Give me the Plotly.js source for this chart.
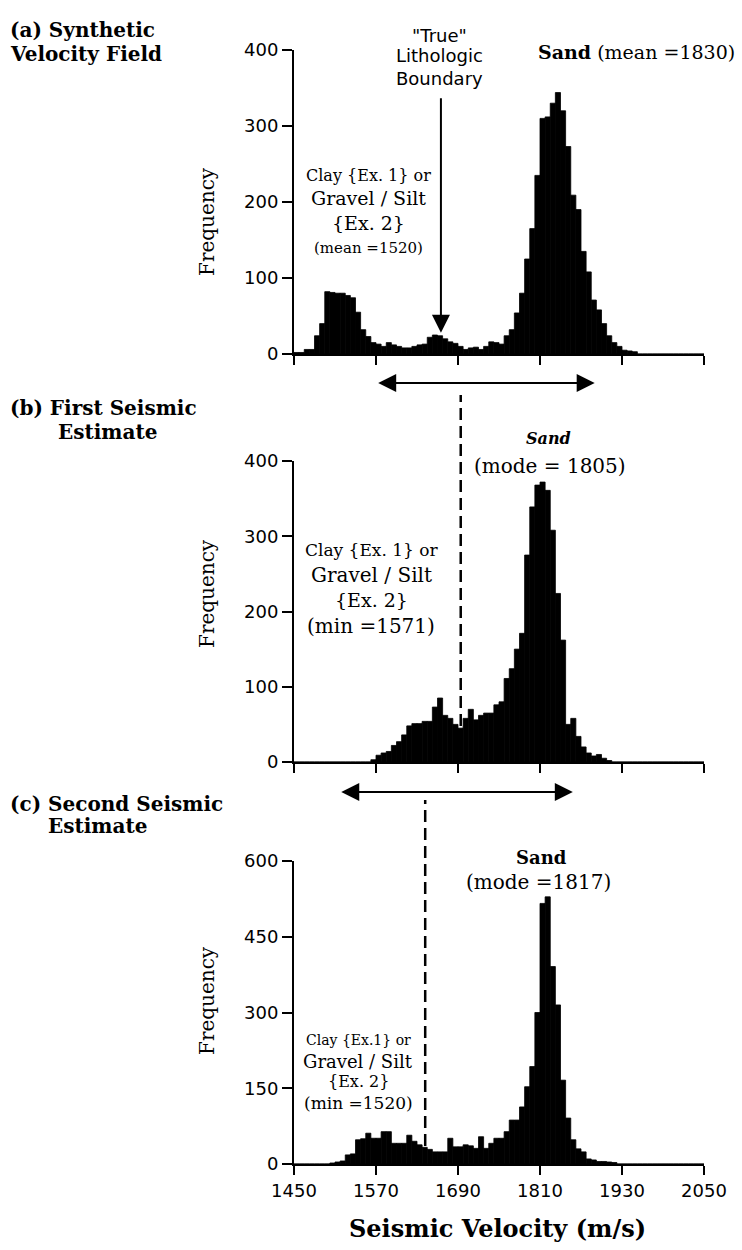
<!DOCTYPE html>
<html>
<head>
<meta charset="utf-8">
<script src="https://cdn.plot.ly/plotly-3.0.1.min.js"></script>
<style>
  html, body { margin: 0; padding: 0; background: #fff; }
  #chart { width: 742px; height: 1250px; }
</style>
</head>
<body>
<div id="chart"></div>
<script>
// Velocity bins (m/s): centres of 7.5 m/s wide bins from 1450 to 2050
const binCenters = [
  1453.75, 1461.25, 1468.75, 1476.25, 1483.75, 1491.25, 1498.75, 1506.25, 1513.75, 1521.25,
  1528.75, 1536.25, 1543.75, 1551.25, 1558.75, 1566.25, 1573.75, 1581.25, 1588.75, 1596.25,
  1603.75, 1611.25, 1618.75, 1626.25, 1633.75, 1641.25, 1648.75, 1656.25, 1663.75, 1671.25,
  1678.75, 1686.25, 1693.75, 1701.25, 1708.75, 1716.25, 1723.75, 1731.25, 1738.75, 1746.25,
  1753.75, 1761.25, 1768.75, 1776.25, 1783.75, 1791.25, 1798.75, 1806.25, 1813.75, 1821.25,
  1828.75, 1836.25, 1843.75, 1851.25, 1858.75, 1866.25, 1873.75, 1881.25, 1888.75, 1896.25,
  1903.75, 1911.25, 1918.75, 1926.25, 1933.75, 1941.25, 1948.75, 1956.25, 1963.75, 1971.25,
  1978.75, 1986.25, 1993.75, 2001.25, 2008.75, 2016.25, 2023.75, 2031.25, 2038.75, 2046.25
];
const binWidth = 7.5;

// (a) synthetic velocity field
const countsSynthetic = [
  2, 2, 6, 6, 24, 40, 82, 81, 80, 80,
  77, 74, 55, 32, 23, 15, 13, 10, 15, 12,
  10, 8, 8, 10, 12, 13, 22, 25, 24, 20,
  16, 14, 10, 6, 8, 9, 6, 10, 16, 15,
  13, 24, 32, 54, 80, 125, 165, 235, 310, 312,
  330, 344, 320, 273, 209, 190, 135, 108, 71, 58,
  40, 24, 15, 10, 5, 4, 3, 0, 0, 0,
  0, 0, 0, 0, 0, 0, 0, 0, 0, 0
];
// (b) first seismic estimate
const countsFirst = [
  0, 0, 0, 0, 0, 0, 0, 0, 0, 0,
  0, 0, 0, 0, 0, 3, 9, 12, 14, 22,
  27, 36, 48, 51, 51, 54, 54, 73, 85, 62,
  58, 50, 45, 58, 70, 56, 62, 65, 65, 76,
  80, 111, 124, 150, 171, 275, 339, 368, 372, 361,
  308, 224, 162, 50, 58, 34, 20, 12, 8, 10,
  5, 2, 0, 0, 0, 0, 0, 0, 0, 0,
  0, 0, 0, 0, 0, 0, 0, 0, 0, 0
];
// (c) second seismic estimate
const countsSecond = [
  0, 0, 0, 0, 0, 0, 0, 2, 4, 6,
  18, 20, 48, 50, 61, 51, 51, 64, 64, 41,
  41, 41, 57, 45, 38, 33, 29, 24, 24, 24,
  51, 34, 34, 38, 36, 31, 54, 31, 41, 51,
  51, 64, 87, 87, 113, 153, 193, 300, 516, 529,
  391, 315, 166, 91, 48, 30, 24, 10, 8, 5,
  5, 4, 3, 0, 0, 0, 0, 0, 0, 0,
  0, 0, 0, 0, 0, 0, 0, 0, 0, 0
];

const velocityTicks = [1450, 1570, 1690, 1810, 1930, 2050];
const freqTicksAB = [0, 100, 200, 300, 400];
const freqTicksC = [0, 150, 300, 450, 600];

// Key velocities marked on the panels
const trueBoundary = 1665;
const firstSplit = 1694, firstMin = 1571, firstMax = 1890;
const secondSplit = 1642, secondMin = 1517, secondMax = 1858;

// ---- page geometry (pixels) ----
const W = 742, H = 1250;
const M = { l: 294, r: 32, t: 50, b: 86 };
const plotW = W - M.l - M.r, plotH = H - M.t - M.b;
const px = x => (x - M.l) / plotW;            // pixel x -> paper x
const py = y => (H - M.b - y) / plotH;        // pixel y -> paper y

const serif = 'DejaVu Serif, serif';
const sans = 'DejaVu Sans, sans-serif';

function label(text, x, y, size, extra) {
  return Object.assign({
    xref: 'paper', yref: 'paper', x: px(x), y: py(y),
    xanchor: 'center', yanchor: 'middle', showarrow: false,
    text: text, font: { family: serif, size: size, color: '#000' }
  }, extra || {});
}

function bars(counts, xa, ya) {
  return {
    type: 'bar', x: binCenters, y: counts, width: binWidth,
    xaxis: xa, yaxis: ya,
    marker: { color: '#000', line: { width: 0.8, color: '#000' } },
    hoverinfo: 'x+y'
  };
}

const data = [
  bars(countsSynthetic, 'x', 'y'),
  bars(countsFirst, 'x2', 'y2'),
  bars(countsSecond, 'x3', 'y3')
];

const xDomain = [0, 410 / plotW];
function xAxis(anchor, showLabels) {
  return {
    domain: xDomain, anchor: anchor, range: [1450, 2050],
    tickmode: 'array', tickvals: velocityTicks,
    showticklabels: showLabels,
    ticks: 'outside', ticklen: 9, tickwidth: 2, tickcolor: '#000',
    showline: true, linewidth: 2, linecolor: '#000',
    showgrid: false, zeroline: false, fixedrange: true,
    tickfont: { family: sans, size: 18, color: '#000' }
  };
}
function yAxis(anchor, domain, max, ticks) {
  return {
    domain: domain, anchor: anchor, range: [0, max],
    tickmode: 'array', tickvals: ticks,
    ticks: 'outside', ticklen: 10, tickwidth: 2, tickcolor: '#000',
    showline: true, linewidth: 2, linecolor: '#000',
    showgrid: false, zeroline: false, fixedrange: true,
    tickfont: { family: sans, size: 18, color: '#000' }
  };
}

const annotations = [
  // panel headings
  label('<b>(a) Synthetic</b>', 8, 30, 20, { xanchor: 'left' }),
  label('<b>Velocity Field</b>', 8, 54, 20, { xanchor: 'left' }),
  label('<b>(b) First Seismic</b>', 8, 408, 20, { xanchor: 'left' }),
  label('<b>Estimate</b>', 107, 432, 20),
  label('<b>(c) Second Seismic</b>', 8, 804, 20, { xanchor: 'left' }),
  label('<b>Estimate</b>', 97, 826, 20),

  // y-axis titles
  label('Frequency', 207, 222, 20, { textangle: -90 }),
  label('Frequency', 207, 594, 20, { textangle: -90 }),
  label('Frequency', 207, 1001, 20, { textangle: -90 }),

  // x-axis title
  label('<b>Seismic Velocity (m/s)</b>', 497, 1228, 24),

  // (a) labels
  label('"True"', 439, 35, 18, { font: { family: sans, size: 18, color: '#000' } }),
  label('Lithologic', 439, 56, 18, { font: { family: sans, size: 18, color: '#000' } }),
  label('Boundary', 439, 78, 18, { font: { family: sans, size: 18, color: '#000' } }),
  label('<b>Sand</b> (mean =1830)', 737, 52, 19, { xanchor: 'right' }),
  label('Clay {Ex. 1} or', 368, 175, 16),
  label('Gravel / Silt', 368, 198, 19),
  label('{Ex. 2}', 368, 223, 19),
  label('(mean =1520)', 368, 248, 15),

  // (b) labels
  label('<b><i>Sand</i></b>', 548, 439, 16),
  label('(mode = 1805)', 550, 466, 20),
  label('Clay {Ex. 1} or', 371, 550, 17),
  label('Gravel / Silt', 371, 575, 20),
  label('{Ex. 2}', 371, 600, 19),
  label('(min =1571)', 371, 626, 20),

  // (c) labels
  label('<b>Sand</b>', 541, 857, 18),
  label('(mode =1817)', 538, 882, 20),
  label('Clay {Ex.1} or', 358, 1040, 14),
  label('Gravel / Silt', 358, 1061, 18),
  label('{Ex. 2}', 358, 1081, 16),
  label('(min =1520)', 358, 1103, 17),

  // arrow to the true lithologic boundary
  {
    xref: 'x', yref: 'y', x: trueBoundary, y: 28,
    axref: 'pixel', ayref: 'pixel', ax: 0, ay: -236,
    text: '', showarrow: true, arrowhead: 2, arrowsize: 1.8, arrowwidth: 2,
    arrowcolor: '#000', standoff: 0
  },
  // velocity spans of the seismic estimates
  {
    xref: 'x2', yref: 'paper', x: firstMax, y: py(383),
    axref: 'x2', ayref: 'pixel', ax: firstMin, ay: 0,
    text: '', showarrow: true, arrowside: 'end+start',
    arrowhead: 2, startarrowhead: 2, arrowsize: 1.8, startarrowsize: 1.8,
    arrowwidth: 2, arrowcolor: '#000', standoff: 0, startstandoff: 0
  },
  {
    xref: 'x3', yref: 'paper', x: secondMax, y: py(792),
    axref: 'x3', ayref: 'pixel', ax: secondMin, ay: 0,
    text: '', showarrow: true, arrowside: 'end+start',
    arrowhead: 2, startarrowhead: 2, arrowsize: 1.8, startarrowsize: 1.8,
    arrowwidth: 2, arrowcolor: '#000', standoff: 0, startstandoff: 0
  }
];

const shapes = [
  {
    type: 'line', xref: 'x2', yref: 'paper',
    x0: firstSplit, x1: firstSplit, y0: py(762), y1: py(395),
    line: { color: '#000', width: 2.5, dash: '12px,6px' }
  },
  {
    type: 'line', xref: 'x3', yref: 'paper',
    x0: secondSplit, x1: secondSplit, y0: py(1164), y1: py(800),
    line: { color: '#000', width: 2.5, dash: '12px,6px' }
  }
];

const layout = {
  width: W, height: H,
  margin: M,
  paper_bgcolor: '#fff', plot_bgcolor: '#fff',
  showlegend: false, bargap: 0,
  font: { family: sans, color: '#000' },
  xaxis: xAxis('y', false),
  xaxis2: xAxis('y2', false),
  xaxis3: xAxis('y3', true),
  yaxis: yAxis('x', [py(354), 1], 400, freqTicksAB),
  yaxis2: yAxis('x2', [py(762), py(461)], 400, freqTicksAB),
  yaxis3: yAxis('x3', [0, py(861)], 600, freqTicksC),
  annotations: annotations,
  shapes: shapes
};

Plotly.newPlot('chart', data, layout, { staticPlot: true, displayModeBar: false });
</script>
</body>
</html>
